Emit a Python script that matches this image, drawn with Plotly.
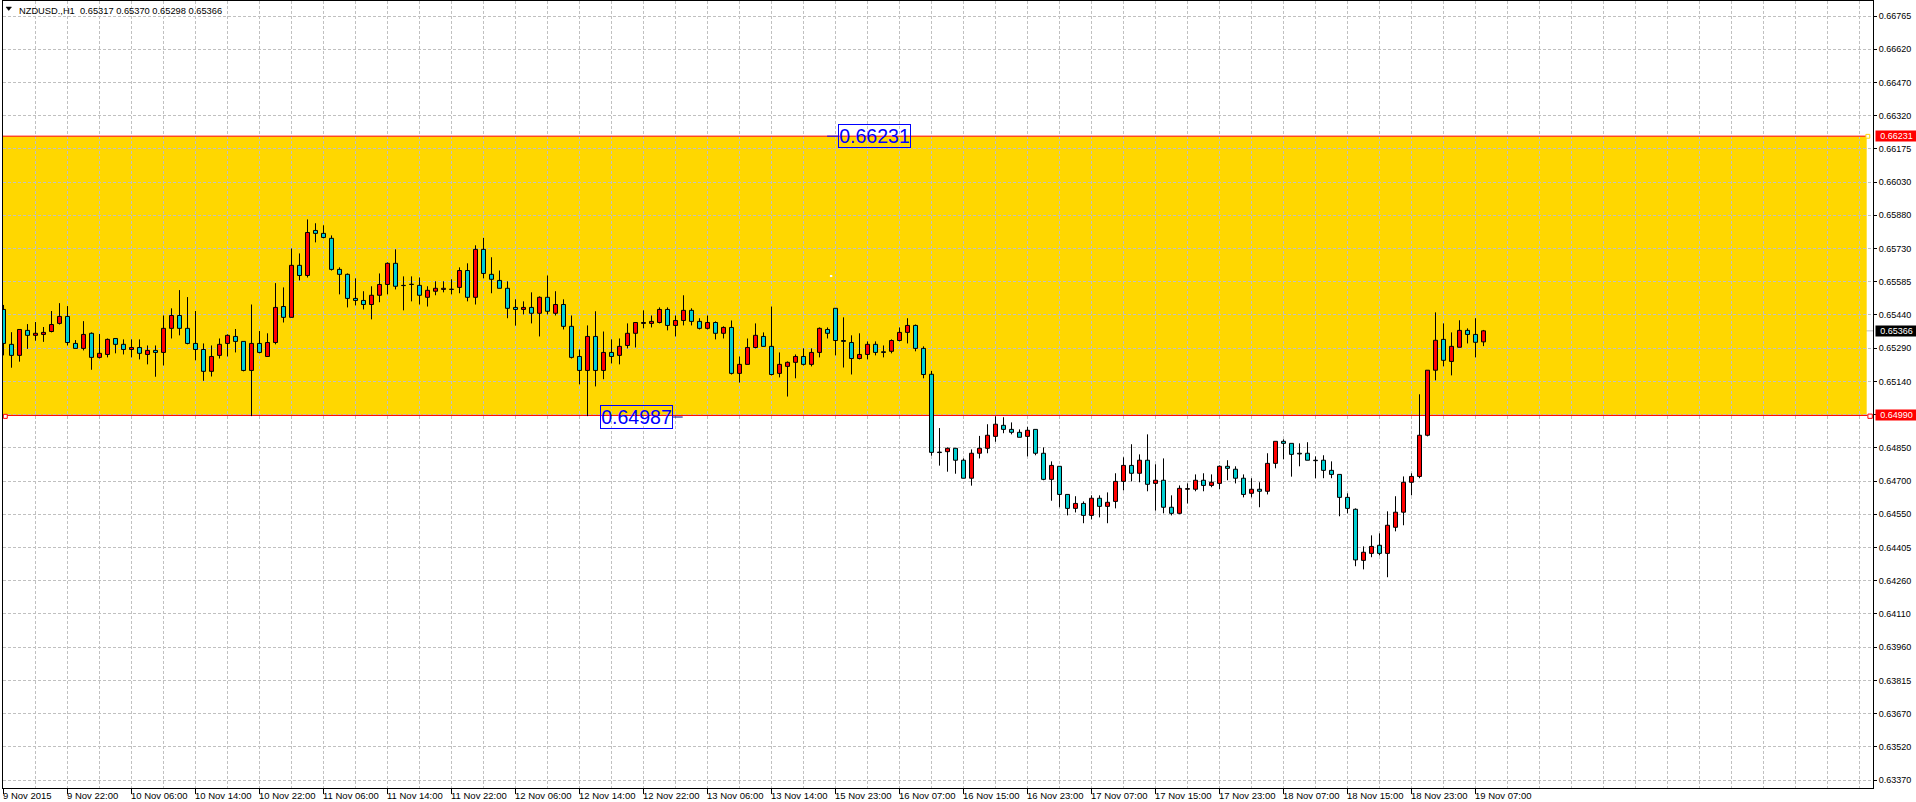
import plotly.graph_objects as go

# ---------------- data (NZDUSD H1) ----------------
symbol_header = "NZDUSD.,H1  0.65317 0.65370 0.65298 0.65366"

open_ = [
    0.65461, 0.65306, 0.65257, 0.65368, 0.65346, 0.65350, 0.65363, 0.65399, 0.65430, 0.65310,
    0.65288, 0.65355, 0.65248, 0.65261, 0.65332, 0.65306, 0.65283, 0.65292, 0.65261, 0.65279,
    0.65270, 0.65377, 0.65434, 0.65377, 0.65310, 0.65283, 0.65186, 0.65257, 0.65310, 0.65341,
    0.65319, 0.65190, 0.65310, 0.65252, 0.65314, 0.65474, 0.65426, 0.65657, 0.65612, 0.65812,
    0.65799, 0.65777, 0.65639, 0.65617, 0.65510, 0.65501, 0.65483, 0.65524, 0.65572, 0.65666,
    0.65568, 0.65572, 0.65568, 0.65515, 0.65542, 0.65550, 0.65550, 0.65559, 0.65634, 0.65515,
    0.65728, 0.65617, 0.65590, 0.65555, 0.65470, 0.65461, 0.65470, 0.65444, 0.65515, 0.65444,
    0.65483, 0.65386, 0.65252, 0.65190, 0.65341, 0.65190, 0.65270, 0.65257, 0.65301, 0.65355,
    0.65399, 0.65399, 0.65403, 0.65461, 0.65390, 0.65412, 0.65457, 0.65408, 0.65377, 0.65403,
    0.65355, 0.65381, 0.65177, 0.65217, 0.65292, 0.65341, 0.65297, 0.65177, 0.65208, 0.65226,
    0.65252, 0.65217, 0.65270, 0.65372, 0.65466, 0.65323, 0.65314, 0.65243, 0.65261, 0.65306,
    0.65273, 0.65275, 0.65323, 0.65359, 0.65390, 0.65288, 0.65173, 0.64827, 0.64829, 0.64844,
    0.64791, 0.64711, 0.64822, 0.64844, 0.64897, 0.64946, 0.64928, 0.64915, 0.64897, 0.64928,
    0.64822, 0.64706, 0.64764, 0.64639, 0.64577, 0.64599, 0.64546, 0.64622, 0.64586, 0.64608,
    0.64697, 0.64768, 0.64733, 0.64791, 0.64688, 0.64702, 0.64582, 0.64555, 0.64662, 0.64662,
    0.64702, 0.64679, 0.64688, 0.64764, 0.64751, 0.64711, 0.64644, 0.64662, 0.64653, 0.64777,
    0.64875, 0.64866, 0.64822, 0.64822, 0.64791, 0.64791, 0.64746, 0.64728, 0.64626, 0.64573,
    0.64346, 0.64377, 0.64413, 0.64377, 0.64493, 0.64560, 0.64693, 0.64719, 0.64902, 0.65191,
    0.65328, 0.65230, 0.65293, 0.65368, 0.65350, 0.65317,
]

high = [
    0.65481, 0.65360, 0.65372, 0.65396, 0.65405, 0.65383, 0.65454, 0.65489, 0.65476, 0.65325,
    0.65409, 0.65359, 0.65352, 0.65332, 0.65332, 0.65328, 0.65328, 0.65328, 0.65301, 0.65301,
    0.65434, 0.65466, 0.65547, 0.65516, 0.65454, 0.65310, 0.65301, 0.65332, 0.65350, 0.65374,
    0.65319, 0.65483, 0.65365, 0.65355, 0.65578, 0.65559, 0.65732, 0.65710, 0.65861, 0.65844,
    0.65835, 0.65790, 0.65648, 0.65621, 0.65599, 0.65542, 0.65564, 0.65621, 0.65670, 0.65728,
    0.65608, 0.65608, 0.65603, 0.65564, 0.65586, 0.65586, 0.65595, 0.65648, 0.65666, 0.65746,
    0.65779, 0.65693, 0.65634, 0.65586, 0.65506, 0.65497, 0.65537, 0.65519, 0.65612, 0.65542,
    0.65506, 0.65434, 0.65283, 0.65390, 0.65453, 0.65363, 0.65328, 0.65332, 0.65399, 0.65403,
    0.65457, 0.65434, 0.65470, 0.65470, 0.65434, 0.65524, 0.65466, 0.65422, 0.65434, 0.65408,
    0.65386, 0.65412, 0.65252, 0.65332, 0.65399, 0.65359, 0.65474, 0.65270, 0.65230, 0.65261,
    0.65288, 0.65288, 0.65381, 0.65381, 0.65466, 0.65426, 0.65346, 0.65355, 0.65319, 0.65319,
    0.65301, 0.65328, 0.65381, 0.65422, 0.65394, 0.65297, 0.65188, 0.64934, 0.64848, 0.64844,
    0.64799, 0.64839, 0.64899, 0.64951, 0.64986, 0.64982, 0.64959, 0.64928, 0.64939, 0.64928,
    0.64848, 0.64786, 0.64764, 0.64639, 0.64631, 0.64608, 0.64635, 0.64635, 0.64648, 0.64733,
    0.64804, 0.64862, 0.64817, 0.64906, 0.64773, 0.64799, 0.64635, 0.64679, 0.64688, 0.64728,
    0.64733, 0.64728, 0.64768, 0.64791, 0.64764, 0.64728, 0.64711, 0.64693, 0.64822, 0.64875,
    0.64884, 0.64866, 0.64866, 0.64871, 0.64808, 0.64813, 0.64786, 0.64728, 0.64644, 0.64577,
    0.64408, 0.64457, 0.64466, 0.64564, 0.64631, 0.64719, 0.64733, 0.65084, 0.65191, 0.65448,
    0.65399, 0.65359, 0.65413, 0.65377, 0.65422, 0.65370,
]

low = [
    0.65257, 0.65202, 0.65229, 0.65286, 0.65322, 0.65317, 0.65359, 0.65394, 0.65301, 0.65288,
    0.65279, 0.65193, 0.65243, 0.65248, 0.65266, 0.65261, 0.65248, 0.65239, 0.65217, 0.65162,
    0.65212, 0.65332, 0.65346, 0.65306, 0.65235, 0.65144, 0.65163, 0.65243, 0.65252, 0.65270,
    0.65186, 0.64987, 0.65266, 0.65252, 0.65306, 0.65403, 0.65426, 0.65590, 0.65603, 0.65759,
    0.65777, 0.65634, 0.65528, 0.65470, 0.65479, 0.65461, 0.65417, 0.65493, 0.65528, 0.65550,
    0.65457, 0.65497, 0.65483, 0.65474, 0.65524, 0.65537, 0.65528, 0.65533, 0.65497, 0.65483,
    0.65599, 0.65533, 0.65555, 0.65422, 0.65389, 0.65439, 0.65399, 0.65341, 0.65439, 0.65434,
    0.65372, 0.65243, 0.65128, 0.64987, 0.65119, 0.65151, 0.65221, 0.65217, 0.65288, 0.65292,
    0.65377, 0.65381, 0.65399, 0.65368, 0.65341, 0.65390, 0.65390, 0.65372, 0.65372, 0.65328,
    0.65332, 0.65172, 0.65136, 0.65217, 0.65288, 0.65297, 0.65168, 0.65159, 0.65074, 0.65155,
    0.65212, 0.65208, 0.65248, 0.65332, 0.65257, 0.65203, 0.65172, 0.65239, 0.65239, 0.65257,
    0.65248, 0.65266, 0.65319, 0.65310, 0.65275, 0.65155, 0.64811, 0.64767, 0.64740, 0.64731,
    0.64711, 0.64678, 0.64799, 0.64822, 0.64873, 0.64911, 0.64906, 0.64893, 0.64808, 0.64813,
    0.64702, 0.64611, 0.64582, 0.64546, 0.64559, 0.64511, 0.64528, 0.64537, 0.64511, 0.64577,
    0.64657, 0.64697, 0.64693, 0.64653, 0.64567, 0.64555, 0.64546, 0.64551, 0.64599, 0.64653,
    0.64653, 0.64671, 0.64662, 0.64702, 0.64688, 0.64626, 0.64626, 0.64582, 0.64639, 0.64755,
    0.64795, 0.64718, 0.64764, 0.64791, 0.64711, 0.64711, 0.64711, 0.64542, 0.64555, 0.64320,
    0.64306, 0.64360, 0.64368, 0.64271, 0.64475, 0.64502, 0.64635, 0.64711, 0.64897, 0.65146,
    0.65208, 0.65168, 0.65293, 0.65310, 0.65248, 0.65298,
]

close = [
    0.65310, 0.65257, 0.65372, 0.65346, 0.65355, 0.65359, 0.65394, 0.65430, 0.65314, 0.65288,
    0.65350, 0.65248, 0.65266, 0.65328, 0.65306, 0.65283, 0.65292, 0.65266, 0.65279, 0.65270,
    0.65377, 0.65434, 0.65377, 0.65310, 0.65283, 0.65186, 0.65252, 0.65306, 0.65346, 0.65319,
    0.65190, 0.65310, 0.65270, 0.65314, 0.65470, 0.65426, 0.65657, 0.65612, 0.65803, 0.65799,
    0.65781, 0.65639, 0.65617, 0.65510, 0.65501, 0.65483, 0.65524, 0.65572, 0.65666, 0.65564,
    0.65567, 0.65573, 0.65524, 0.65546, 0.65555, 0.65555, 0.65551, 0.65634, 0.65515, 0.65728,
    0.65621, 0.65595, 0.65555, 0.65466, 0.65461, 0.65470, 0.65444, 0.65515, 0.65453, 0.65483,
    0.65386, 0.65248, 0.65190, 0.65341, 0.65190, 0.65270, 0.65252, 0.65297, 0.65355, 0.65403,
    0.65403, 0.65408, 0.65461, 0.65390, 0.65412, 0.65457, 0.65408, 0.65377, 0.65403, 0.65355,
    0.65381, 0.65177, 0.65217, 0.65292, 0.65346, 0.65297, 0.65172, 0.65217, 0.65226, 0.65252,
    0.65217, 0.65270, 0.65377, 0.65355, 0.65323, 0.65319, 0.65243, 0.65261, 0.65306, 0.65270,
    0.65270, 0.65323, 0.65359, 0.65390, 0.65288, 0.65172, 0.64826, 0.64825, 0.64844, 0.64791,
    0.64711, 0.64822, 0.64844, 0.64902, 0.64951, 0.64928, 0.64915, 0.64893, 0.64924, 0.64822,
    0.64706, 0.64768, 0.64639, 0.64577, 0.64599, 0.64546, 0.64622, 0.64586, 0.64604, 0.64697,
    0.64768, 0.64733, 0.64791, 0.64684, 0.64702, 0.64582, 0.64555, 0.64666, 0.64665, 0.64702,
    0.64679, 0.64693, 0.64764, 0.64755, 0.64711, 0.64639, 0.64662, 0.64653, 0.64777, 0.64875,
    0.64866, 0.64817, 0.64819, 0.64791, 0.64789, 0.64746, 0.64728, 0.64626, 0.64577, 0.64348,
    0.64382, 0.64408, 0.64377, 0.64502, 0.64560, 0.64693, 0.64719, 0.64902, 0.65191, 0.65324,
    0.65235, 0.65297, 0.65368, 0.65350, 0.65315, 0.65366,
]

x_tick_labels = [
    "9 Nov 2015", "9 Nov 22:00", "10 Nov 06:00", "10 Nov 14:00", "10 Nov 22:00",
    "11 Nov 06:00", "11 Nov 14:00", "11 Nov 22:00", "12 Nov 06:00", "12 Nov 14:00",
    "12 Nov 22:00", "13 Nov 06:00", "13 Nov 14:00", "15 Nov 23:00", "16 Nov 07:00",
    "16 Nov 15:00", "16 Nov 23:00", "17 Nov 07:00", "17 Nov 15:00", "17 Nov 23:00",
    "18 Nov 07:00", "18 Nov 15:00", "18 Nov 23:00", "19 Nov 07:00",
]

y_tick_labels = [
    "0.66765", "0.66620", "0.66470", "0.66320", "0.66175", "0.66030", "0.65880", "0.65730",
    "0.65585", "0.65440", "0.65290", "0.65140", "", "0.64850", "0.64700", "0.64550",
    "0.64405", "0.64260", "0.64110", "0.63960", "0.63815", "0.63670", "0.63520", "0.63370",
]

zone_top = 0.66231
zone_bottom = 0.64990
zone_low_label = 0.64987
last_price = 0.65366

# ---------------- styling ----------------
BULL = "#FF0000"
BEAR = "#00CED1"
ZONE = "#FFD700"
GRID = "#C0C0C0"
FONT = "Liberation Sans, Arial, sans-serif"

W, H = 1916, 802
L_M, R_M, T_M, B_M = 3, 43, 1, 14
PW = W - L_M - R_M
PH = H - T_M - B_M
X_RANGE = [-0.0625, 233.6875]
Y_RANGE = [0.6333446, 0.6683166]


def px_x(X):
    return (X - L_M) / PW


def px_y(Y):
    return (H - B_M - Y) / PH


n = len(close)
idx = list(range(n))
body_base = [min(o, c) for o, c in zip(open_, close)]
body_len = [abs(c - o) for o, c in zip(open_, close)]
body_col = [BULL if c > o else BEAR for o, c in zip(open_, close)]

wx, wy = [], []
for i, (o, h, l, c) in enumerate(zip(open_, high, low, close)):
    wx += [i, i, None, i, i, None]
    wy += [h, max(o, c), None, min(o, c), l, None]

fig = go.Figure()
fig.add_trace(go.Bar(
    x=idx, y=body_len, base=body_base, width=0.5,
    marker=dict(color=body_col, line=dict(color="black", width=1)),
    hoverinfo="skip", showlegend=False,
))
fig.add_trace(go.Scatter(
    x=wx, y=wy, mode="lines", line=dict(color="black", width=1),
    hoverinfo="skip", showlegend=False, connectgaps=False,
))

grid_step = (0.66765 - 0.63370) / 23
y_grid = [0.66765 - k * grid_step for k in range(24)]
major_x = list(range(0, 8 * len(x_tick_labels), 8))
minor_x = [v for v in range(4, 233, 4) if v not in major_x]

fig.update_layout(
    width=W, height=H,
    margin=dict(l=L_M, r=R_M, t=T_M, b=B_M),
    paper_bgcolor="white", plot_bgcolor="white",
    showlegend=False, barmode="overlay",
    font=dict(family=FONT, color="black"),
    xaxis=dict(
        range=X_RANGE, tickmode="array", tickvals=major_x, showticklabels=False,
        ticks="outside", ticklen=5, tickcolor="black", tickwidth=1,
        showgrid=True, gridcolor=GRID, griddash="3px,2px", gridwidth=1,
        showline=True, linecolor="black", linewidth=1, mirror=True, zeroline=False,
        minor=dict(tickmode="array", tickvals=minor_x, showgrid=True, gridcolor=GRID,
                   griddash="3px,2px", gridwidth=1, ticks=""),
    ),
    yaxis=dict(
        side="right", range=Y_RANGE, tickmode="array", tickvals=y_grid, ticktext=y_tick_labels,
        ticks="outside", ticklen=3, tickcolor="black", tickwidth=1,
        tickfont=dict(family=FONT, size=9, color="black"),
        showgrid=True, gridcolor=GRID, griddash="3px,2px", gridwidth=1,
        showline=True, linecolor="black", linewidth=1, mirror=True, zeroline=False,
    ),
)

# support/resistance zone
fig.add_shape(type="rect", xref="x", yref="y", x0=-1, x1=232.9, y0=zone_bottom, y1=zone_top,
              fillcolor=ZONE, line=dict(width=0), layer="below")
fig.add_shape(type="line", xref="paper", yref="y", x0=0, x1=1, y0=last_price, y1=last_price,
              line=dict(color=GRID, width=1), layer="below")
for yv in (zone_top, zone_bottom):
    fig.add_shape(type="line", xref="x", yref="y", x0=-1, x1=233.0, y0=yv, y1=yv,
                  line=dict(color="#FF0000", width=1), layer="between")

# object handles
fig.add_shape(type="rect", xref="x", yref="y", x0=-0.02, x1=0.47, y0=0.64977, y1=0.64995,
              fillcolor="white", line=dict(color="#FF0000", width=1), layer="above")
fig.add_shape(type="rect", xref="x", yref="y", x0=233.05, x1=233.6, y0=0.64977, y1=0.64996,
              fillcolor="white", line=dict(color="#FF0000", width=1), layer="above")
fig.add_shape(type="rect", xref="x", yref="y", x0=232.8, x1=233.28, y0=0.66222, y1=0.66239,
              fillcolor="white", line=dict(color=ZONE, width=1), layer="above")
fig.add_shape(type="rect", xref="x", yref="y", x0=103.3, x1=103.6, y0=0.65605, y1=0.65614,
              fillcolor="white", line=dict(width=0), layer="above")
# label connectors
fig.add_shape(type="line", xref="x", yref="y", x0=102.95, x1=104.3, y0=zone_top, y1=zone_top,
              line=dict(color="#0000FF", width=1), layer="above")
fig.add_shape(type="line", xref="x", yref="y", x0=83.7, x1=84.9, y0=0.64983, y1=0.64983,
              line=dict(color="#000080", width=1), layer="above")

# header
fig.add_shape(type="path", xref="paper", yref="paper",
              path=f"M {px_x(6)} {px_y(7)} L {px_x(11.5)} {px_y(7)} L {px_x(8.75)} {px_y(10.5)} Z",
              fillcolor="black", line=dict(color="black", width=0.5), layer="above")
fig.add_annotation(xref="paper", yref="paper", x=px_x(18), y=px_y(10.5), xanchor="left",
                   yanchor="middle", text=symbol_header, showarrow=False, borderpad=0,
                   font=dict(family=FONT, size=9.3, color="black"))

# x tick labels (left-aligned at ticks, as in MT4)
for k, lab in enumerate(x_tick_labels):
    fig.add_annotation(xref="x", yref="paper", x=major_x[k], y=px_y(789), xanchor="left",
                       yanchor="top", xshift=-2, text=lab, showarrow=False, borderpad=0,
                       font=dict(family=FONT, size=9.5, color="black"))

# price tags on the axis
for yv, txt, bg in ((zone_top, f"{zone_top:.5f}", "#FF0000"),
                    (last_price, f"{last_price:.5f}", "#000000"),
                    (zone_bottom, f"{zone_bottom:.5f}", "#FF0000")):
    fig.add_annotation(xref="paper", yref="y", x=px_x(1875), y=yv, xanchor="left",
                       yanchor="middle", text=txt, showarrow=False, bgcolor=bg,
                       width=41, height=10, borderpad=0,
                       font=dict(family=FONT, size=9, color="white"))

# blue price labels in the chart
for xv, yv, txt, ys in ((108.9, zone_top, f"{zone_top:.5f}", 0),
                        (79.1, zone_bottom, f"{zone_low_label:.5f}", -2)):
    fig.add_annotation(xref="x", yref="y", x=xv, y=yv, xanchor="center", yanchor="middle",
                       yshift=ys, text=txt, showarrow=False, bordercolor="#0000FF",
                       borderwidth=1, borderpad=0, width=71, height=22,
                       font=dict(family=FONT, size=19.5, color="#0000FF"))

page_reset = ("document.body.style.margin='0px';document.body.style.padding='0px';"
              "document.body.style.overflow='hidden';"
              "document.documentElement.style.overflow='hidden';")
fig.write_html("out.html", post_script=page_reset,
               config={"displayModeBar": False, "staticPlot": True})
